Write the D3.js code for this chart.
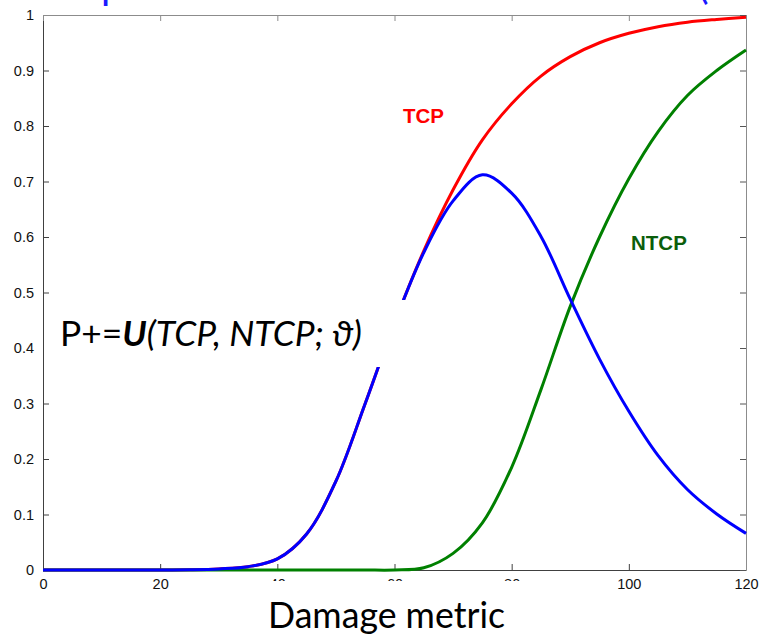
<!DOCTYPE html>
<html>
<head>
<meta charset="utf-8">
<script src="https://cdn.jsdelivr.net/npm/d3@7"></script>
<style>
    body { margin: 0; background: #fff; }
    svg { display: block; }
    .tick text { font-family: Arial, "Liberation Sans", sans-serif; font-size: 14.5px; fill: #111; }
</style>
</head>
<body>
<div id="chart_area"></div>
<script>
// damage metric sample points
var dose = [0, 5, 10, 15, 20, 25, 30, 35, 40, 45, 50, 55, 60, 65, 70, 75, 80, 85, 90, 95, 100, 105, 110, 115, 120];
// curves
var tcp = [0, 0, 0, 0, 0, 0.0005, 0.002, 0.006, 0.02, 0.065, 0.16, 0.3, 0.445, 0.575, 0.685, 0.775, 0.84, 0.89, 0.925, 0.95, 0.967, 0.979, 0.987, 0.992, 0.996];
var ntcp = [0, 0, 0, 0, 0, 0, 0, 0, 0, 0, 0, 0, 0, 0.004, 0.03, 0.085, 0.185, 0.325, 0.475, 0.6, 0.705, 0.79, 0.855, 0.9, 0.937];
var pplus = [0, 0, 0, 0, 0, 0.0005, 0.002, 0.006, 0.02, 0.065, 0.16, 0.3, 0.445, 0.572, 0.665, 0.712, 0.679, 0.601, 0.488, 0.38, 0.286, 0.206, 0.145, 0.101, 0.066];
var xTicks = [0, 20, 40, 60, 80, 100, 120];
var yTicks = [0, 0.1, 0.2, 0.3, 0.4, 0.5, 0.6, 0.7, 0.8, 0.9, 1];

var width = 762, height = 637;
var margin = { top: 15, right: 16, bottom: 67, left: 43 };

var svg = d3.select("#chart_area")
    .append("svg")
    .attr("width", width)
    .attr("height", height);

var x = d3.scaleLinear().domain([0, 120]).range([margin.left, width - margin.right]);
var y = d3.scaleLinear().domain([0, 1]).range([height - margin.bottom, margin.top]);

// partly cut title above the plot
var title = svg.append("text")
    .attr("y", -1)
    .style("font-family", "Lato, 'Open Sans', sans-serif")
    .style("font-size", "40px")
    .style("fill", "#1a1aff");
title.append("tspan").attr("x", 101).text("p");
title.append("tspan").attr("x", 698).text("(");

// box + inward ticks, matlab style
var fmtY = function (d) { return d === 0 || d === 1 ? d3.format("d")(d) : d3.format(".1f")(d); };

svg.append("g")
    .attr("transform", "translate(0," + y(0) + ")")
    .call(d3.axisBottom(x).tickValues(xTicks).tickSizeInner(-6).tickSizeOuter(0).tickPadding(9))
    .call(function (g) {
        g.select(".domain").attr("stroke", "#404040");
        g.selectAll(".tick line").attr("stroke", "#404040");
    });

svg.append("g")
    .attr("transform", "translate(" + x(0) + ",0)")
    .call(d3.axisLeft(y).tickValues(yTicks).tickFormat(fmtY).tickSizeInner(-6).tickSizeOuter(0).tickPadding(9))
    .call(function (g) {
        g.select(".domain").attr("stroke", "#404040");
        g.selectAll(".tick line").attr("stroke", "#404040");
    });

svg.append("g")
    .attr("transform", "translate(0," + y(1) + ")")
    .call(d3.axisTop(x).tickValues(xTicks).tickFormat("").tickSizeInner(-6).tickSizeOuter(0))
    .call(function (g) {
        g.select(".domain").attr("stroke", "#8c8c8c");
        g.selectAll(".tick line").attr("stroke", "#8c8c8c");
    });

svg.append("g")
    .attr("transform", "translate(" + x(120) + ",0)")
    .call(d3.axisRight(y).tickValues(yTicks).tickFormat("").tickSizeInner(-6).tickSizeOuter(0))
    .call(function (g) {
        g.select(".domain").attr("stroke", "#8c8c8c");
        g.selectAll(".tick line").attr("stroke", "#555");
    });

var series = [
    { name: "TCP", values: tcp, color: "#ff0000" },
    { name: "NTCP", values: ntcp, color: "#008000" },
    { name: "P+", values: pplus, color: "#0000ff" }
];

var line = d3.line()
    .x(function (d, i) { return x(dose[i]); })
    .y(function (d) { return y(Math.max(0, d)); })
    .curve(d3.curveCatmullRom.alpha(0.5));

svg.append("g")
    .attr("class", "curves")
    .selectAll("path")
    .data(series)
    .enter().append("path")
    .attr("d", function (d) { return line(d.values); })
    .style("fill", "none")
    .style("stroke", function (d) { return d.color; })
    .style("stroke-width", 3)
    .style("stroke-linejoin", "round");

// curve labels
svg.append("text")
    .attr("x", 403).attr("y", 123)
    .style("font-family", "Arial, 'Liberation Sans', sans-serif")
    .style("font-weight", "bold")
    .style("font-size", "20.5px")
    .style("fill", "#ff0000")
    .text("TCP");

svg.append("text")
    .attr("x", 631).attr("y", 250)
    .style("font-family", "Arial, 'Liberation Sans', sans-serif")
    .style("font-weight", "bold")
    .style("font-size", "20.5px")
    .style("fill", "#0b5e0b")
    .text("NTCP");

// white overlay with the utility formula
svg.append("rect")
    .attr("x", 44).attr("y", 300)
    .attr("width", 368).attr("height", 67)
    .style("fill", "#fff");

var formula = svg.append("text")
    .attr("x", 60).attr("y", 346)
    .attr("textLength", 302)
    .attr("lengthAdjust", "spacingAndGlyphs")
    .style("font-family", "Lato, 'Open Sans', sans-serif")
    .style("font-size", "34px")
    .style("fill", "#000");
formula.append("tspan").text("P+=");
formula.append("tspan").style("font-weight", "bold").style("font-style", "italic").text("U");
formula.append("tspan").style("font-style", "italic").text("(TCP, NTCP; \u03D1)");

// white overlay with the x axis title
svg.append("rect")
    .attr("x", 225).attr("y", 581)
    .attr("width", 340).attr("height", 56)
    .style("fill", "#fff");

svg.append("text")
    .attr("x", 268).attr("y", 628)
    .attr("textLength", 237)
    .attr("lengthAdjust", "spacingAndGlyphs")
    .style("font-family", "Lato, 'Open Sans', sans-serif")
    .style("font-size", "37px")
    .style("fill", "#000")
    .text("Damage metric");
</script>
</body>
</html>
